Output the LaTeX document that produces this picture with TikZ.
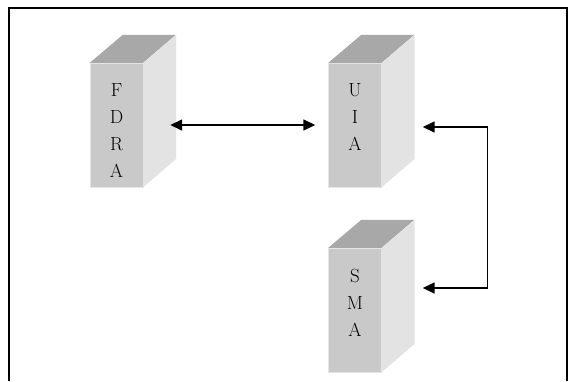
\documentclass[tikz,border=0pt]{standalone}
\usepackage{fontspec}
\usetikzlibrary{positioning,arrows.meta}
\begin{document}
\begin{tikzpicture}[x=1pt, y=-1pt,
	front/.style = {draw=gray!20, fill=gray!42, minimum width=53pt, minimum height=124pt, inner sep=0pt},
	topface/.style = {fill=gray!68},
	sideface/.style = {fill=gray!22},
	lbl/.style = {align=center, inner sep=0pt, anchor=north, font=\fontsize{19pt}{27pt}\selectfont},
	link/.style = {line width=1.5pt, {Triangle[length=12pt,width=11pt]}-{Triangle[length=12pt,width=11pt]}}]
	\useasboundingbox (0,0) rectangle (568,381);
	% frame
	\draw[line width=2pt] (9,381) -- (9,8) -- (567,8) -- (567,381);
	% agents
	\node[front] (fdra) at (116.5,125) {};
	\node[front] (uia) at (355,125) {};
	\node[front] (sma) at (355,310) {};
	\foreach \n in {fdra,uia,sma} {
		\fill[topface] (\n.north west) -- ++(33,-28) -- ++(53,0) -- (\n.north east) -- cycle;
		\fill[sideface] (\n.north east) -- ++(33,-28) -- ++(0,124) -- (\n.south east) -- cycle;
	}
	\node[lbl, below=21pt of fdra.north] (fdralbl) {F\\D\\R\\A};
	\node[lbl, below=21pt of uia.north] (uialbl) {U\\I\\A};
	\node[lbl, below=21pt of sma.north] (smalbl) {S\\M\\A};
	% links
	\draw[link] ([xshift=27pt]fdra.east) -- ([xshift=-13pt]uia.west);
	\draw[link] ([xshift=41pt,yshift=-2pt]uia.east) -- ++(65,0) |- ([xshift=41pt,yshift=22pt]sma.east);
\end{tikzpicture}
\end{document}
